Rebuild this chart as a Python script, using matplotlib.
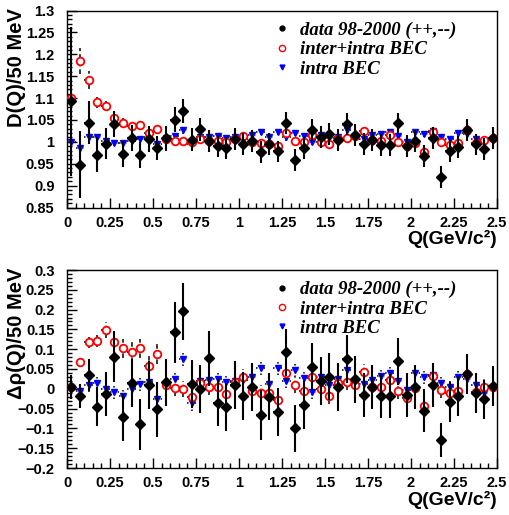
import numpy as np
import matplotlib
matplotlib.use("Agg")
import matplotlib.pyplot as plt
from matplotlib.lines import Line2D
from matplotlib.ticker import MultipleLocator, FuncFormatter

# Q bins: 50 MeV wide, 0 - 2.5 GeV
q_centers = np.arange(50) * 0.05 + 0.025
q_half = 0.025

# D(Q) for like-sign pairs
d_data = [1.093, 0.948, 1.044, 0.970, 0.996, 1.041, 0.972, 1.008, 0.970, 1.006,
          0.986, 1.008, 1.051, 1.071, 1.005, 1.029, 1.001, 0.990, 0.986, 1.007,
          0.995, 1.001, 0.977, 0.995, 0.978, 1.043, 0.959, 0.985, 1.028, 1.011,
          1.017, 1.005, 1.040, 1.015, 0.995, 1.005, 0.992, 0.992, 1.042, 0.990,
          1.002, 0.967, 1.009, 0.919, 0.979, 0.989, 1.028, 0.994, 0.983, 1.008]
d_data_err = [0.170, 0.076, 0.050, 0.040, 0.035, 0.030, 0.030, 0.030, 0.030, 0.030,
              0.028, 0.028, 0.028, 0.027, 0.026, 0.026, 0.025, 0.025, 0.025, 0.025,
              0.025, 0.025, 0.025, 0.025, 0.025, 0.025, 0.025, 0.025, 0.025, 0.025,
              0.025, 0.025, 0.025, 0.025, 0.025, 0.025, 0.025, 0.025, 0.025, 0.025,
              0.025, 0.025, 0.025, 0.025, 0.025, 0.025, 0.025, 0.025, 0.025, 0.025]
d_inter = [1.100, 1.184, 1.141, 1.090, 1.082, 1.054, 1.044, 1.036, 1.038, 1.021,
           1.030, 1.006, 1.003, 1.001, 1.000, 1.007, 1.003, 1.002, 0.999, 1.007,
           1.013, 0.999, 0.998, 0.994, 0.991, 1.020, 1.002, 1.000, 1.015, 1.000,
           0.994, 1.007, 1.009, 1.014, 1.024, 1.005, 1.001, 1.015, 1.000, 0.990,
           0.998, 0.976, 1.022, 1.000, 0.992, 0.998, 1.028, 0.998, 1.005, 1.009]
d_inter_err = [0.006, 0.030, 0.020, 0.012, 0.012, 0.010, 0.010, 0.009, 0.009, 0.009,
               0.008, 0.008, 0.008, 0.008, 0.008, 0.008, 0.008, 0.008, 0.008, 0.008,
               0.008, 0.008, 0.008, 0.008, 0.008, 0.008, 0.008, 0.008, 0.008, 0.008,
               0.008, 0.008, 0.008, 0.008, 0.008, 0.008, 0.008, 0.008, 0.008, 0.008,
               0.008, 0.008, 0.008, 0.008, 0.008, 0.008, 0.008, 0.008, 0.008, 0.008]
d_intra = [0.999, 0.986, 1.012, 1.012, 1.002, 0.998, 0.997, 1.002, 1.007, 1.010,
           0.995, 1.008, 1.013, 1.027, 0.994, 1.011, 1.011, 1.014, 1.008, 1.011,
           1.007, 1.015, 1.023, 1.011, 1.023, 1.011, 1.021, 1.013, 1.000, 1.016,
           1.008, 1.012, 1.027, 1.012, 1.007, 1.015, 1.019, 1.022, 1.013, 0.999,
           1.023, 1.019, 1.024, 1.011, 1.007, 1.021, 1.018, 1.007, 0.998, 1.005]
d_intra_err = [0.008] * 50

# delta rho(Q)
r_data = [0.005, -0.018, 0.035, -0.045, -0.013, 0.081, -0.072, 0.015, -0.090, 0.010,
          -0.052, 0.016, 0.143, 0.196, 0.012, -0.001, 0.077, -0.035, -0.047, 0.010,
          -0.018, 0.005, -0.066, -0.020, -0.059, 0.092, -0.100, -0.041, 0.056, 0.020,
          0.031, 0.004, 0.075, 0.024, -0.016, 0.005, -0.018, -0.018, 0.069, -0.016,
          0.004, -0.055, 0.010, -0.129, -0.033, -0.018, 0.037, -0.011, -0.027, 0.007]
r_data_err = [0.030, 0.030, 0.040, 0.050, 0.055, 0.065, 0.060, 0.060, 0.065, 0.060,
              0.070, 0.060, 0.077, 0.072, 0.060, 0.060, 0.070, 0.060, 0.060, 0.060,
              0.060, 0.060, 0.063, 0.060, 0.060, 0.060, 0.060, 0.060, 0.060, 0.060,
              0.060, 0.060, 0.060, 0.060, 0.055, 0.055, 0.055, 0.055, 0.060, 0.055,
              0.055, 0.055, 0.055, 0.042, 0.050, 0.050, 0.050, 0.050, 0.050, 0.050]
r_inter = [0.005, 0.067, 0.117, 0.121, 0.148, 0.119, 0.102, 0.092, 0.102, 0.058,
           0.087, 0.010, 0.001, -0.001, -0.020, 0.014, 0.004, 0.005, -0.013, 0.018,
           0.030, -0.005, -0.010, -0.011, -0.028, 0.039, 0.010, -0.005, 0.031, 0.000,
           -0.018, 0.015, 0.018, 0.010, 0.043, 0.005, 0.004, 0.023, -0.005, -0.024,
           0.002, -0.044, 0.033, -0.003, -0.011, -0.005, 0.037, -0.008, 0.004, 0.005]
r_inter_err = [0.010, 0.012, 0.015, 0.015, 0.020, 0.025, 0.025, 0.025, 0.025, 0.025,
               0.025, 0.020, 0.020, 0.020, 0.020, 0.020, 0.020, 0.020, 0.020, 0.020,
               0.020, 0.020, 0.020, 0.020, 0.020, 0.020, 0.020, 0.020, 0.020, 0.020,
               0.020, 0.020, 0.020, 0.020, 0.020, 0.020, 0.020, 0.020, 0.020, 0.020,
               0.020, 0.020, 0.020, 0.020, 0.020, 0.020, 0.020, 0.020, 0.020, 0.020]
r_intra = [-0.001, -0.005, 0.010, 0.014, -0.001, -0.007, -0.018, 0.000, 0.013, 0.016,
           -0.027, 0.012, 0.026, 0.075, -0.037, 0.020, 0.022, 0.025, 0.018, 0.020,
           0.022, 0.030, 0.053, 0.012, 0.053, 0.019, 0.047, 0.028, -0.007, 0.030,
           0.010, 0.024, 0.047, 0.020, 0.012, 0.023, 0.033, 0.039, 0.020, -0.003,
           0.039, 0.030, 0.035, 0.015, 0.005, 0.030, 0.025, 0.010, -0.011, 0.002]
r_intra_err = [0.018] * 50

legend_labels = ["data 98-2000 (++,--)", "inter+intra BEC", "intra BEC"]

plt.rcParams["font.family"] = ["Liberation Sans", "DejaVu Sans"]
plt.rcParams["font.weight"] = "bold"

fig = plt.figure(figsize=(5.09, 5.15), dpi=100)
W, H = 509, 515


def px_axes(x0, y0, x1, y1):
    return fig.add_axes([x0 / W, 1 - y1 / H, (x1 - x0) / W, (y1 - y0) / H])


def errs(ax, y, yerr, **kw):
    ls = kw.pop("bar_ls", "-")
    lw = kw.pop("bar_lw", 1.3)
    col = kw.pop("bar_color", "black")
    cont = ax.errorbar(q_centers, y, yerr=yerr, xerr=q_half, linestyle="none",
                       ecolor=col, elinewidth=lw, capsize=0, **kw)
    for lc in cont[2]:
        lc.set_linestyle(ls)
    return cont


def style(ax, ylo, yhi, ymaj, ymin, ylabel):
    ax.set_xlim(0, 2.5)
    ax.set_ylim(ylo, yhi)
    ax.xaxis.set_major_locator(MultipleLocator(0.25))
    ax.xaxis.set_minor_locator(MultipleLocator(0.05))
    ax.yaxis.set_major_locator(MultipleLocator(ymaj))
    ax.yaxis.set_minor_locator(MultipleLocator(ymin))
    fmt = FuncFormatter(lambda v, p: ("%g" % round(v, 4)).replace("-", "\u2212"))
    ax.xaxis.set_major_formatter(fmt)
    ax.yaxis.set_major_formatter(fmt)
    ax.tick_params(which="both", direction="in", top=False, right=False,
                   width=1.0, labelsize=10.5)
    ax.tick_params(which="major", length=7.5)
    ax.tick_params(which="minor", length=3.8)
    ax.tick_params(axis="y", pad=9)
    ax.tick_params(axis="x", pad=6)
    for lab in ax.get_xticklabels() + ax.get_yticklabels():
        lab.set_fontweight("bold")
    for s in ax.spines.values():
        s.set_linewidth(1.0)

    # axis titles pinned to the top / right ends of the axes
    ax.set_ylabel(ylabel, fontsize=14.5, fontweight="bold")
    ax.yaxis.set_label_coords(-0.118, 1.012)
    ax.yaxis.label.set_ha("right")
    ax.yaxis.label.set_va("center")
    ax.set_xlabel("Q(GeV/c\u00b2)", fontsize=14, fontweight="bold")
    ax.xaxis.set_label_coords(1.0, -0.115)
    ax.xaxis.label.set_ha("right")

    handles = [
        Line2D([], [], ls="none", marker="o", color="black", markersize=3.5),
        Line2D([], [], ls="none", marker="o", mfc="none", mec="red", mew=1.0, markersize=4.5),
        Line2D([], [], ls="none", marker="v", color="blue", markersize=3.5),
    ]
    ax.legend(handles, legend_labels, loc="upper left", bbox_to_anchor=(0.44, 1.03),
              frameon=False, handlelength=1.0, handletextpad=0.45, labelspacing=0.12,
              prop={"family": "Liberation Serif", "weight": "bold",
                    "style": "italic", "size": 13.5})


def draw(ax, data, data_err, inter, inter_err, intra, intra_err):
    errs(ax, intra, intra_err, fmt="v", color="blue", markersize=4.5,
         bar_ls=(0, (1, 1.5)), bar_lw=1.1, zorder=2)
    errs(ax, inter, inter_err, fmt="o", mfc="white", mec="red", mew=1.3,
         markersize=5.5, bar_ls=(0, (3, 2)), bar_lw=1.1, zorder=3)
    errs(ax, data, data_err, fmt="D", color="black", markersize=5.5,
         bar_lw=1.5, zorder=4)


ax1 = px_axes(67, 10.5, 497, 207.5)
draw(ax1, d_data, d_data_err, d_inter, d_inter_err, d_intra, d_intra_err)
style(ax1, 0.85, 1.3, 0.05, 0.01, "D(Q)/50 MeV")

ax2 = px_axes(67, 270, 497, 468)
draw(ax2, r_data, r_data_err, r_inter, r_inter_err, r_intra, r_intra_err)
style(ax2, -0.2, 0.3, 0.05, 0.01, "\u0394\u03c1(Q)/50 MeV")

fig.savefig("out.png", dpi=100)
